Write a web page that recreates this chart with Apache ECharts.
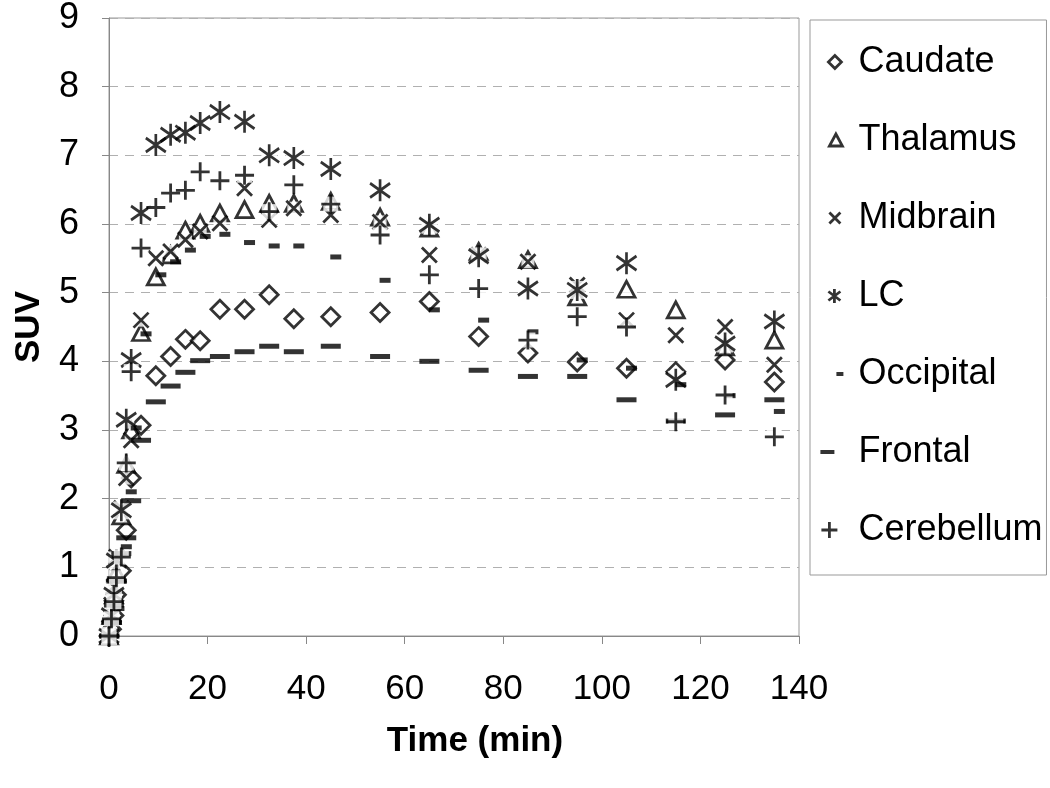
<!DOCTYPE html>
<html><head><meta charset="utf-8">
<script src="https://cdn.jsdelivr.net/npm/echarts@6/dist/echarts.min.js"></script>
<style>html,body{margin:0;padding:0;background:#fff}#c{width:1050px;height:788px}</style>
</head><body><div id="c"></div>
<script>
// Time (min) of each frame
const times      = [0, 0.5, 1, 1.5, 2.5, 3.5, 4.5, 6.5, 9.5, 12.5, 15.5, 18.5, 22.5, 27.5, 32.5, 37.5, 45, 55, 65, 75, 85, 95, 105, 115, 125, 135];
const caudate    = [0, 0.1, 0.3, 0.6, 0.95, 1.54, 2.3, 3.07, 3.79, 4.07, 4.32, 4.30, 4.76, 4.76, 4.97, 4.62, 4.65, 4.71, 4.87, 4.36, 4.12, 3.99, 3.90, 3.85, 4.02, 3.70];
const thalamus   = [0, 0.3, 0.6, 0.92, 1.75, 2.5, 3.0, 4.42, 5.23, 5.55, 5.91, 6.01, 6.16, 6.21, 6.30, 6.30, 6.33, 6.10, 5.94, 5.60, 5.48, 4.94, 5.05, 4.75, 4.21, 4.31];
const midbrain   = [0, 0.45, 0.72, 1.15, 1.86, 2.3, 2.85, 4.60, 5.50, 5.60, 5.77, 5.89, 6.01, 6.52, 6.06, 6.23, 6.13, 6.03, 5.55, 5.55, 5.45, 5.11, 4.60, 4.38, 4.50, 3.95];
const lc         = [0, 0.3, 0.6, 1.1, 1.83, 3.15, 4.02, 6.16, 7.15, 7.30, 7.33, 7.47, 7.63, 7.49, 7.00, 6.96, 6.80, 6.49, 5.99, 5.53, 5.06, 5.04, 5.43, 3.73, 4.26, 4.58];
const occipital  = [0, 0.2, 0.4, 0.8, 1.3, 2.1, 3.03, 4.40, 5.26, 5.45, 5.62, 5.82, 5.85, 5.73, 5.68, 5.68, 5.52, 5.18, 4.75, 4.60, 4.43, 4.02, 3.90, 3.66, 3.50, 3.27];
const frontal    = [0, 0.2, 0.45, 0.8, 1.2, 1.43, 1.97, 2.85, 3.41, 3.64, 3.84, 4.01, 4.07, 4.14, 4.22, 4.14, 4.22, 4.07, 4.00, 3.87, 3.78, 3.78, 3.44, 3.13, 3.22, 3.44];
const cerebellum = [0, 0.25, 0.5, 0.85, 1.15, 2.52, 3.85, 5.65, 6.24, 6.45, 6.49, 6.76, 6.63, 6.71, 6.18, 6.57, 6.29, 5.84, 5.26, 5.06, 4.31, 4.65, 4.50, 3.12, 3.51, 2.90];
const seriesNames = ['Caudate', 'Thalamus', 'Midbrain', 'LC', 'Occipital', 'Frontal', 'Cerebellum'];
const seriesValues = [caudate, thalamus, midbrain, lc, occipital, frontal, cerebellum];

const X_PATH = 'path://M0,0L10,10M10,0L0,10';
const PLUS_PATH = 'path://M5,0L5,10M0,5L10,5';
const STAR_PATH = 'path://M5,0L5,10M0,1.8L10,8.2M10,1.8L0,8.2';
const DASH = 'path://M0,0h10v4h-10z';

// legend icons drawn inside a 24x16 box (first two moves fix the box)
const BOX = 'path://M0,0M24,16';
const styles = [
  {symbol: 'diamond', size: [18, 18], kind: 'hollow', legendIcon: BOX + 'M15.5,1.5L22,8L15.5,14.5L9,8Z'},
  {symbol: 'triangle', size: [17, 16], kind: 'hollow', legendIcon: BOX + 'M16.5,2L23,14L10,14Z'},
  {symbol: X_PATH, size: [15, 15], kind: 'lines', mask: [13, 13], legendIcon: BOX + 'M10,2.5L21,13.5M21,2.5L10,13.5'},
  {symbol: STAR_PATH, size: [20, 22], kind: 'lines', mask: [16, 18], legendIcon: BOX + 'M15,1L15,15M9,3.5L21,12.5M21,3.5L9,12.5'},
  {symbol: DASH, size: [11, 5], kind: 'solid', offset: [5, 0], legendIcon: BOX + 'M17,6h7v4h-7z'},
  {symbol: DASH, size: [20, 5], kind: 'solid', legendIcon: BOX + 'M1,6h14v4h-14z'},
  {symbol: PLUS_PATH, size: [19, 19], kind: 'lines', mask: [15, 15], legendIcon: BOX + 'M10,0L10,16M2,8L18,8'}
];

const FONT = '"Liberation Sans", Arial, sans-serif';

const series = [];
seriesNames.forEach((name, i) => {
  const st = styles[i];
  const data = times.map((t, j) => [t, seriesValues[i][j]]);
  if (st.mask) {
    // opaque white backing under stroked markers (as in the original plot)
    series.push({
      name: name + ' bg', type: 'scatter', data: data,
      symbol: 'rect', symbolSize: st.mask,
      itemStyle: {color: '#fff'}, emphasis: {disabled: true}, silent: true, z: 3
    });
  }
  series.push({
    name: name,
    type: 'scatter',
    data: data,
    symbol: st.symbol,
    symbolSize: st.size,
    symbolOffset: st.offset || [0, 0],
    symbolKeepAspect: false,
    itemStyle: st.kind === 'solid'
      ? {color: '#000', borderWidth: 0}
      : {color: st.kind === 'hollow' ? '#fff' : 'rgba(0,0,0,0)', borderColor: '#000', borderWidth: 2.8},
    emphasis: {disabled: true},
    z: 3
  });
});

const chart = echarts.init(document.getElementById('c'), null, {renderer: 'canvas'});
chart.setOption({
  animation: false,
  backgroundColor: '#fff',
  grid: {left: 109, top: 18, width: 690, height: 618, show: true, borderColor: '#999', borderWidth: 1, containLabel: false},
  xAxis: {
    type: 'value', min: 0, max: 140, interval: 20,
    name: 'Time (min)', nameLocation: 'middle', nameGap: 88,
    nameTextStyle: {fontFamily: FONT, fontSize: 35, fontWeight: 'bold', color: '#000', padding: [0, 0, 0, 42]},
    axisLine: {show: true, lineStyle: {color: '#888', width: 1}},
    axisTick: {show: true, inside: false, length: 8, lineStyle: {color: '#888'}},
    axisLabel: {fontFamily: FONT, fontSize: 35, color: '#000', margin: 36},
    splitLine: {show: false}
  },
  yAxis: {
    type: 'value', min: 0, max: 9, interval: 1,
    name: 'SUV', nameLocation: 'middle', nameGap: 62, nameRotate: 90,
    nameTextStyle: {fontFamily: FONT, fontSize: 35, fontWeight: 'bold', color: '#000'},
    axisLine: {show: true, lineStyle: {color: '#888', width: 1}},
    axisTick: {show: true, inside: false, length: 7, lineStyle: {color: '#888'}},
    axisLabel: {fontFamily: FONT, fontSize: 36, color: '#000', margin: 30},
    splitLine: {show: true, lineStyle: {color: '#b0b0b0', width: 1, type: [9, 7]}}
  },
  legend: {
    orient: 'vertical', left: 810, top: 20,
    padding: [24, 4, 27, 8],
    itemGap: 42, itemWidth: 24, itemHeight: 16,
    borderColor: '#999', borderWidth: 1, backgroundColor: '#fff',
    textStyle: {fontFamily: FONT, fontSize: 36, lineHeight: 36, color: '#000', padding: [0, 0, 0, 10]},
    itemStyle: {borderWidth: 2.8, borderColor: '#000'},
    data: seriesNames.map((n, i) => ({
      name: n, icon: styles[i].legendIcon,
      itemStyle: styles[i].kind === 'solid'
        ? {color: '#000', borderWidth: 0}
        : {color: styles[i].kind === 'hollow' ? '#fff' : 'rgba(0,0,0,0)', borderColor: '#000', borderWidth: 2.8}
    }))
  },
  series: series
});
</script></body></html>
